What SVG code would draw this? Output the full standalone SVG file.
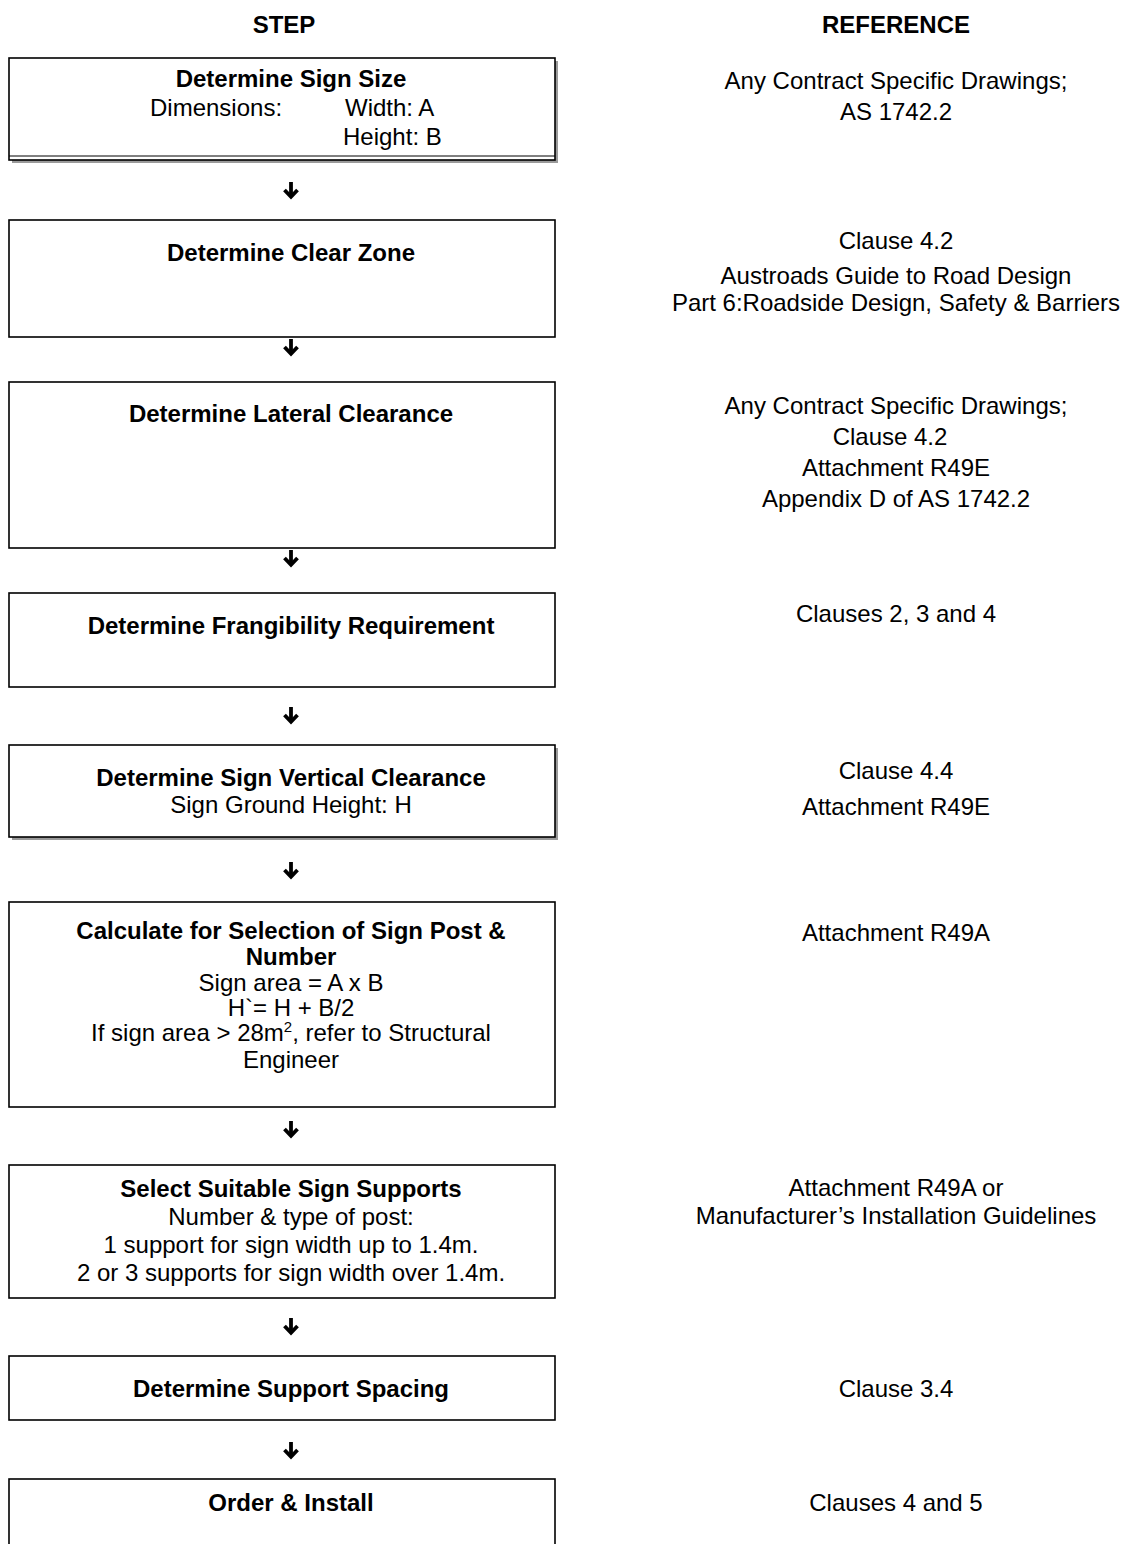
<svg xmlns="http://www.w3.org/2000/svg" width="1126" height="1544" viewBox="0 0 1126 1544">
<style>
text{font-family:"Liberation Sans",Arial,sans-serif;font-size:24px;fill:#000}
.b{font-weight:bold}
.c{text-anchor:middle}
.box{fill:#fff;stroke:#000;stroke-width:1.6}
.sh{fill:#9a9a9a}
.arr{stroke:#000;stroke-width:3.8;fill:none}
</style>
<defs>
<g id="ar"><line class="arr" x1="0" y1="0" x2="0" y2="15"/><polyline class="arr" points="-6.5,8 0,14.8 6.5,8"/></g>
</defs>
<rect width="1126" height="1544" fill="#fff"/>
<g id="headers">
<text class="b c" x="284" y="33">STEP</text>
<text class="b c" x="896" y="33">REFERENCE</text>
</g>
<g id="connectors">
<use href="#ar" x="291" y="182"/>
<use href="#ar" x="291" y="339"/>
<use href="#ar" x="291" y="550"/>
<use href="#ar" x="291" y="707"/>
<use href="#ar" x="291" y="862"/>
<use href="#ar" x="291" y="1121"/>
<use href="#ar" x="291" y="1318"/>
<use href="#ar" x="291" y="1442"/>
</g>
<g id="n1">
<rect class="sh" x="12" y="61" width="546" height="102"/>
<rect class="box" x="9" y="58" width="546" height="102"/>
<line x1="9" y1="156" x2="555" y2="156" stroke="#000" stroke-width="1"/>
<text class="b c" x="291" y="87">Determine Sign Size</text>
<text x="150" y="116">Dimensions:</text>
<text x="345" y="116">Width: A</text>
<text x="343" y="145">Height: B</text>
</g>
<g id="n2">
<rect class="box" x="9" y="220" width="546" height="117"/>
<text class="b c" x="291" y="261">Determine Clear Zone</text>
</g>
<g id="n3">
<rect class="box" x="9" y="382" width="546" height="166"/>
<text class="b c" x="291" y="422">Determine Lateral Clearance</text>
</g>
<g id="n4">
<rect class="box" x="9" y="593" width="546" height="94"/>
<text class="b c" x="291" y="634">Determine Frangibility Requirement</text>
</g>
<g id="n5">
<rect class="sh" x="12" y="748" width="546" height="92"/>
<rect class="box" x="9" y="745" width="546" height="92"/>
<text class="b c" x="291" y="786">Determine Sign Vertical Clearance</text>
<text class="c" x="291" y="813">Sign Ground Height: H</text>
</g>
<g id="n6">
<rect class="box" x="9" y="902" width="546" height="205"/>
<text class="b c" x="291" y="939">Calculate for Selection of Sign Post &amp;</text>
<text class="b c" x="291" y="965">Number</text>
<text class="c" x="291" y="991">Sign area = A x B</text>
<text class="c" x="291" y="1016">H`= H + B/2</text>
<text class="c" x="291" y="1041">If sign area &gt; 28m<tspan dy="-9" font-size="15">2</tspan><tspan dy="9">, refer to Structural</tspan></text>
<text class="c" x="291" y="1068">Engineer</text>
</g>
<g id="n7">
<rect class="box" x="9" y="1165" width="546" height="133"/>
<text class="b c" x="291" y="1197">Select Suitable Sign Supports</text>
<text class="c" x="291" y="1225">Number &amp; type of post:</text>
<text class="c" x="291" y="1253">1 support for sign width up to 1.4m.</text>
<text class="c" x="291" y="1281">2 or 3 supports for sign width over 1.4m.</text>
</g>
<g id="n8">
<rect class="box" x="9" y="1356" width="546" height="64"/>
<text class="b c" x="291" y="1397">Determine Support Spacing</text>
</g>
<g id="n9">
<rect class="box" x="9" y="1479" width="546" height="80"/>
<text class="b c" x="291" y="1511">Order &amp; Install</text>
</g>
<g id="refs">
<text class="c" x="896" y="89">Any Contract Specific Drawings;</text>
<text class="c" x="896" y="120">AS 1742.2</text>
<text class="c" x="896" y="249">Clause 4.2</text>
<text class="c" x="896" y="284">Austroads Guide to Road Design</text>
<text class="c" x="896" y="311">Part 6:Roadside Design, Safety &amp; Barriers</text>
<text class="c" x="896" y="414">Any Contract Specific Drawings;</text>
<text class="c" x="890" y="445">Clause 4.2</text>
<text class="c" x="896" y="476">Attachment R49E</text>
<text class="c" x="896" y="507">Appendix D of AS 1742.2</text>
<text class="c" x="896" y="622">Clauses 2, 3 and 4</text>
<text class="c" x="896" y="779">Clause 4.4</text>
<text class="c" x="896" y="815">Attachment R49E</text>
<text class="c" x="896" y="941">Attachment R49A</text>
<text class="c" x="896" y="1196">Attachment R49A or</text>
<text class="c" x="896" y="1224">Manufacturer’s Installation Guidelines</text>
<text class="c" x="896" y="1397">Clause 3.4</text>
<text class="c" x="896" y="1511">Clauses 4 and 5</text>
</g>
</svg>
